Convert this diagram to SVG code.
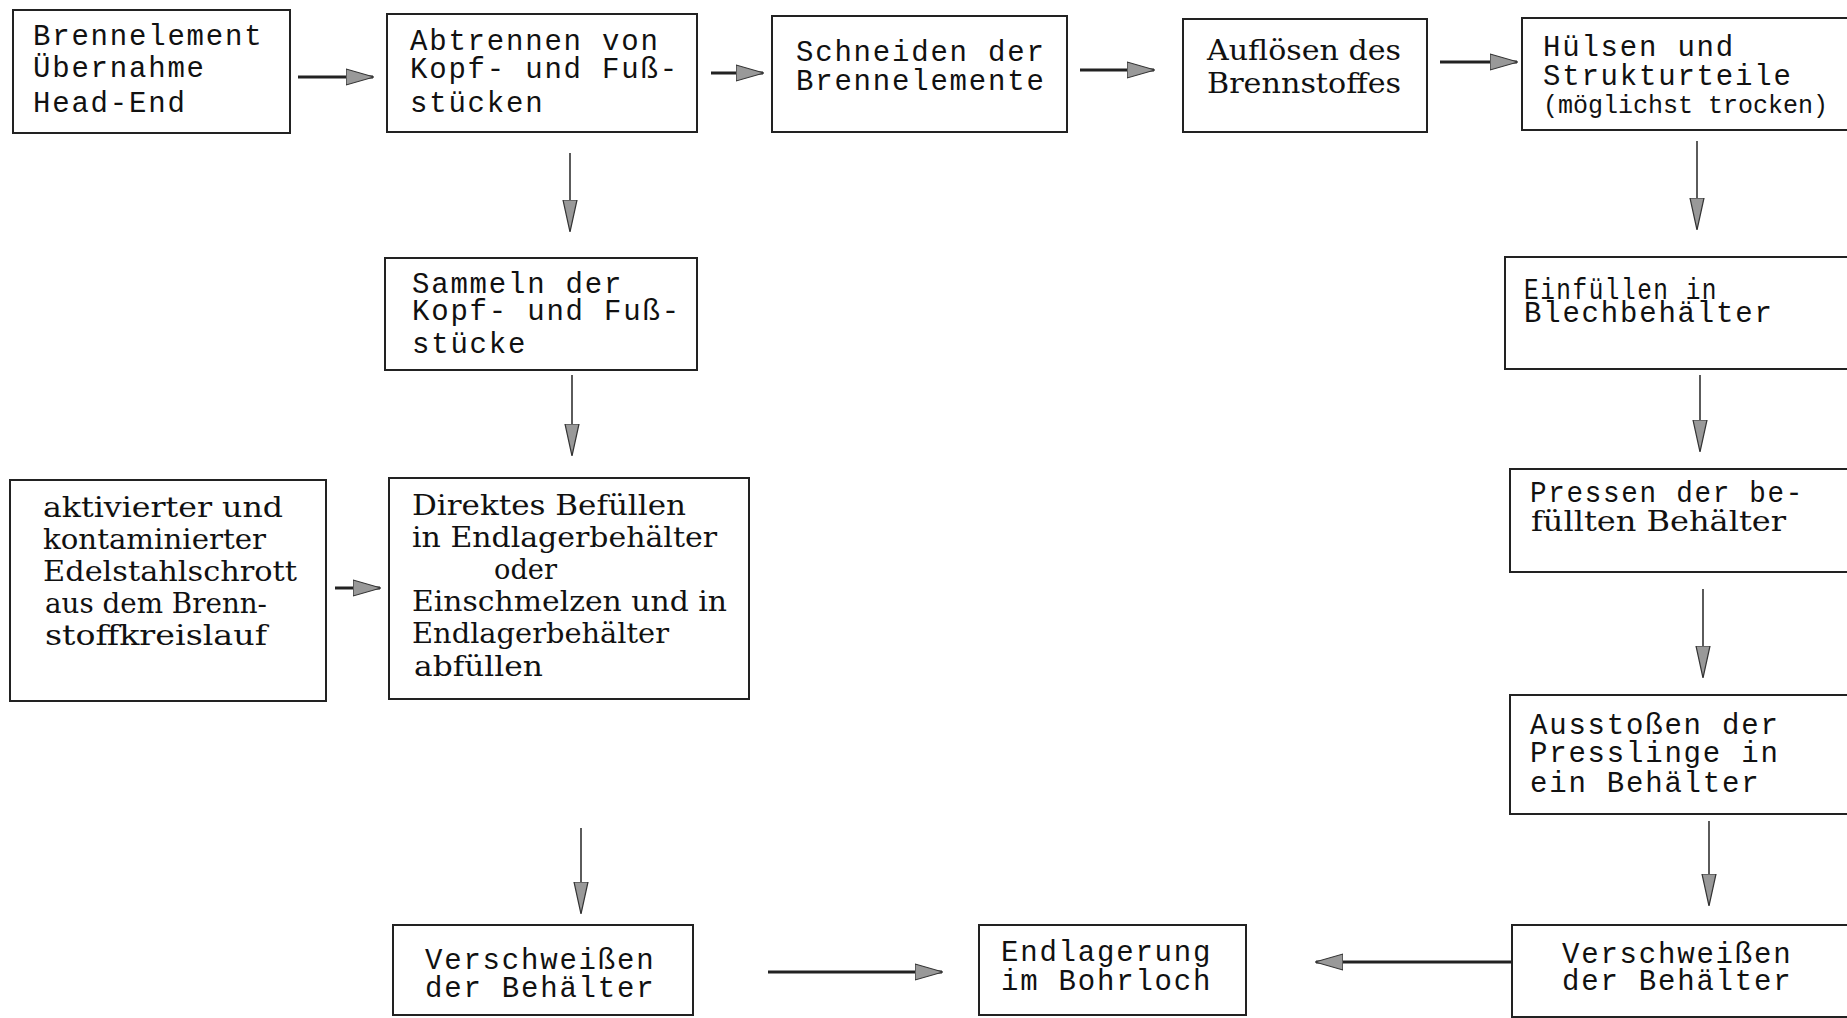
<svg xmlns="http://www.w3.org/2000/svg" width="1847" height="1018" viewBox="0 0 1847 1018">
<style>
.box{fill:#fff;stroke:#222;stroke-width:2}
.t{font-family:"Liberation Mono","DejaVu Sans Mono",monospace;font-size:29px;letter-spacing:1.8px;fill:#111}
.s{font-family:"DejaVu Serif","Liberation Serif",serif;font-size:27px;fill:#111}
.h{stroke:#222;stroke-width:3;fill:none}
.v{stroke:#333;stroke-width:1.6;fill:none}
</style>
<defs>
<marker id="ah" markerUnits="userSpaceOnUse" viewBox="0 0 28 20" markerWidth="28" markerHeight="20" refX="27" refY="10" orient="auto">
<path d="M0,2 L28,10 L0,18 Z" fill="#999" stroke="#333" stroke-width="1.2"/>
</marker>
<marker id="av" markerUnits="userSpaceOnUse" viewBox="0 0 32 16" markerWidth="32" markerHeight="16" refX="31" refY="8" orient="auto">
<path d="M0,1 L32,8 L0,15 Z" fill="#999" stroke="#333" stroke-width="1.2"/>
</marker>
</defs>
<rect width="1847" height="1018" fill="#fff"/>

<g id="n1"><rect class="box" x="13" y="10" width="277" height="123"/>
<text class="t" x="33" y="45">Brennelement</text>
<text class="t" x="33" y="77">Übernahme</text>
<text class="t" x="33" y="112">Head-End</text></g>

<g id="n2"><rect class="box" x="387" y="14" width="310" height="118"/>
<text class="t" x="410" y="50">Abtrennen von</text>
<text class="t" x="410" y="78">Kopf- und Fuß-</text>
<text class="t" x="410" y="112">stücken</text></g>

<g id="n3"><rect class="box" x="772" y="16" width="295" height="116"/>
<text class="t" x="796" y="61">Schneiden der</text>
<text class="t" x="796" y="90">Brennelemente</text></g>

<g id="n4"><rect class="box" x="1183" y="19" width="244" height="113"/>
<text class="s" x="1207" y="60" textLength="194" lengthAdjust="spacingAndGlyphs">Auflösen des</text>
<text class="s" x="1207" y="93" textLength="194" lengthAdjust="spacingAndGlyphs">Brennstoffes</text></g>

<g id="n5"><rect class="box" x="1522" y="18" width="326" height="112"/>
<text class="t" x="1543" y="56">Hülsen und</text>
<text class="t" x="1543" y="85">Strukturteile</text>
<text class="t" x="1543" y="113" style="font-size:25px;letter-spacing:0">(möglichst trocken)</text></g>

<g id="n6"><rect class="box" x="1505" y="257" width="343" height="112"/>
<text class="t" x="1524" y="299" textLength="194" lengthAdjust="spacingAndGlyphs">Einfüllen in</text>
<text class="t" x="1524" y="322">Blechbehälter</text></g>

<g id="n7"><rect class="box" x="1510" y="469" width="338" height="103"/>
<text class="t" x="1530" y="502" textLength="274" lengthAdjust="spacingAndGlyphs">Pressen der be-</text>
<text class="s" x="1531" y="531" textLength="255" lengthAdjust="spacingAndGlyphs">füllten Behälter</text></g>

<g id="n8"><rect class="box" x="1510" y="695" width="338" height="119"/>
<text class="t" x="1530" y="734">Ausstoßen der</text>
<text class="t" x="1530" y="762">Presslinge in</text>
<text class="t" x="1530" y="792">ein Behälter</text></g>

<g id="n9"><rect class="box" x="1512" y="925" width="336" height="92"/>
<text class="t" x="1562" y="963">Verschweißen</text>
<text class="t" x="1562" y="990">der Behälter</text></g>

<g id="n10"><rect class="box" x="979" y="925" width="267" height="90"/>
<text class="t" x="1001" y="961">Endlagerung</text>
<text class="t" x="1001" y="990">im Bohrloch</text></g>

<g id="n11"><rect class="box" x="393" y="925" width="300" height="90"/>
<text class="t" x="425" y="969">Verschweißen</text>
<text class="t" x="425" y="997">der Behälter</text></g>

<g id="n12"><rect class="box" x="385" y="258" width="312" height="112"/>
<text class="t" x="412" y="293">Sammeln der</text>
<text class="t" x="412" y="320">Kopf- und Fuß-</text>
<text class="t" x="412" y="353">stücke</text></g>

<g id="n13"><rect class="box" x="389" y="478" width="360" height="221"/>
<text class="s" x="412" y="515" textLength="274" lengthAdjust="spacingAndGlyphs">Direktes Befüllen</text>
<text class="s" x="412" y="547" textLength="305" lengthAdjust="spacingAndGlyphs">in Endlagerbehälter</text>
<text class="s" x="494" y="579" textLength="63" lengthAdjust="spacingAndGlyphs">oder</text>
<text class="s" x="412" y="611" textLength="315" lengthAdjust="spacingAndGlyphs">Einschmelzen und in</text>
<text class="s" x="412" y="643" textLength="257" lengthAdjust="spacingAndGlyphs">Endlagerbehälter</text>
<text class="s" x="414" y="676" textLength="129" lengthAdjust="spacingAndGlyphs">abfüllen</text></g>

<g id="n14"><rect class="box" x="10" y="480" width="316" height="221"/>
<text class="s" x="43" y="517" textLength="240" lengthAdjust="spacingAndGlyphs">aktivierter und</text>
<text class="s" x="43" y="549" textLength="223" lengthAdjust="spacingAndGlyphs">kontaminierter</text>
<text class="s" x="43" y="581" textLength="254" lengthAdjust="spacingAndGlyphs">Edelstahlschrott</text>
<text class="s" x="45" y="613" textLength="222" lengthAdjust="spacingAndGlyphs">aus dem Brenn-</text>
<text class="s" x="45" y="645" textLength="222" lengthAdjust="spacingAndGlyphs">stoffkreislauf</text></g>

<g id="connectors">
<line class="h" x1="298" y1="77" x2="373" y2="77" marker-end="url(#ah)"/>
<line class="h" x1="711" y1="73" x2="763" y2="73" marker-end="url(#ah)"/>
<line class="h" x1="1080" y1="70" x2="1154" y2="70" marker-end="url(#ah)"/>
<line class="h" x1="1440" y1="62" x2="1517" y2="62" marker-end="url(#ah)"/>
<line class="v" x1="570" y1="153" x2="570" y2="231" marker-end="url(#av)"/>
<line class="v" x1="572" y1="375" x2="572" y2="455" marker-end="url(#av)"/>
<line class="h" x1="335" y1="588" x2="380" y2="588" marker-end="url(#ah)"/>
<line class="v" x1="581" y1="828" x2="581" y2="913" marker-end="url(#av)"/>
<line class="h" x1="768" y1="972" x2="942" y2="972" marker-end="url(#ah)"/>
<line class="h" x1="1512" y1="962" x2="1316" y2="962" marker-end="url(#ah)"/>
<line class="v" x1="1697" y1="141" x2="1697" y2="229" marker-end="url(#av)"/>
<line class="v" x1="1700" y1="375" x2="1700" y2="451" marker-end="url(#av)"/>
<line class="v" x1="1703" y1="589" x2="1703" y2="677" marker-end="url(#av)"/>
<line class="v" x1="1709" y1="821" x2="1709" y2="905" marker-end="url(#av)"/>
</g>
</svg>
